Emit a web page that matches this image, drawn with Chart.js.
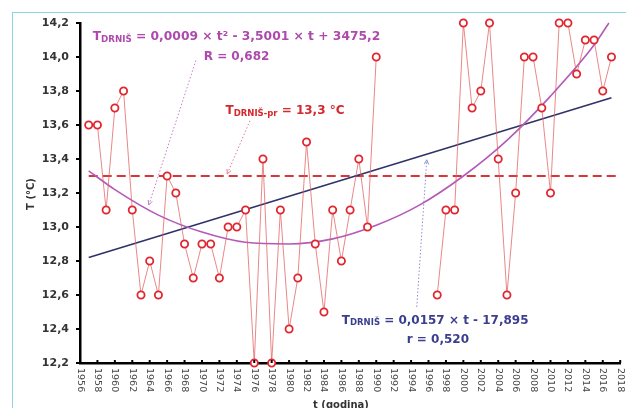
<!DOCTYPE html>
<html>
<head>
<meta charset="utf-8">
<script src="https://cdn.jsdelivr.net/npm/chart.js@4/dist/chart.umd.min.js"></script>
<style>
  html, body { margin: 0; padding: 0; background: #fff; }
  #wrap { position: relative; width: 626px; height: 408px; overflow: hidden; }
  #frame { position: absolute; left: 12px; top: 12px; width: 700px; height: 500px;
           border-left: 1px solid #8fd4e2; border-top: 1px solid #8fd4e2; }
  canvas { position: absolute; left: 0; top: 0; }
</style>
</head>
<body>
<div id="wrap">
  <div id="frame"></div>
  <canvas id="c" width="626" height="408"></canvas>
</div>
<script>
// Mean annual air temperature, Drniš
const years = [
  1957, 1958, 1959, 1960, 1961, 1962, 1963, 1964, 1965, 1966,
  1967, 1968, 1969, 1970, 1971, 1972, 1973, 1974, 1975, 1976,
  1977, 1978, 1979, 1980, 1981, 1982, 1983, 1984, 1985, 1986,
  1987, 1988, 1989, 1990, 1991, 1992, 1993, 1994, 1995, 1996,
  1997, 1998, 1999, 2000, 2001, 2002, 2003, 2004, 2005, 2006,
  2007, 2008, 2009, 2010, 2011, 2012, 2013, 2014, 2015, 2016,
  2017
];
const temps = [
  13.6, 13.6, 13.1, 13.7, 13.8, 13.1, 12.6, 12.8, 12.6, 13.3,
  13.2, 12.9, 12.7, 12.9, 12.9, 12.7, 13.0, 13.0, 13.1, 12.2,
  13.4, 12.2, 13.1, 12.4, 12.7, 13.5, 12.9, 12.5, 13.1, 12.8,
  13.1, 13.4, 13.0, 14.0, null, null, null, null, null, null,
  12.6, 13.1, 13.1, 14.2, 13.7, 13.8, 14.2, 13.4, 12.6, 13.2,
  14.0, 14.0, 13.7, 13.2, 14.2, 14.2, 13.9, 14.1, 14.1, 13.8,
  14.0
];

// Long-term mean
const meanYears = [1957, 2018];
const meanTemp = 13.3;

// Linear trend
const linYears = [1957, 2017];
const linTemps = [12.82, 13.76];

// Second-order polynomial trend
const quadYears = [1957, 1960, 1965, 1970, 1975, 1980, 1985, 1990, 1995, 2000, 2005, 2010, 2015, 2016.7];
const quadTemps = [13.33, 13.22, 13.07, 12.97, 12.91, 12.90, 12.93, 13.01, 13.13, 13.30, 13.51, 13.77, 14.07, 14.20];

// Axis ticks
const yearTicks = ['1956','1958','1960','1962','1964','1966','1968','1970','1972','1974','1976',
  '1978','1980','1982','1984','1986','1988','1990','1992','1994','1996','1998','2000','2002',
  '2004','2006','2008','2010','2012','2014','2016','2018'];
const tempTicks = [12.2, 12.4, 12.6, 12.8, 13.0, 13.2, 13.4, 13.6, 13.8, 14.0, 14.2];

const FONT = '"DejaVu Sans", Verdana, sans-serif';

function pts(xs, ys) { return xs.map((v, i) => ({ x: v, y: ys[i] })); }

// Text with a small subscript part, e.g. T with DRNIŠ
function drawEq(ctx, parts, x, y, color) {
  ctx.fillStyle = color;
  ctx.textAlign = 'left';
  ctx.textBaseline = 'alphabetic';
  let cx = x;
  parts.forEach(p => {
    ctx.font = 'bold ' + p.size + 'px ' + FONT;
    ctx.fillText(p.t, cx, y + (p.dy || 0));
    cx += ctx.measureText(p.t).width;
  });
}

function arrow(ctx, x0, y0, x1, y1, color) {
  ctx.save();
  ctx.strokeStyle = color;
  ctx.lineWidth = 1;
  ctx.setLineDash([1.5, 2]);
  ctx.beginPath(); ctx.moveTo(x0, y0); ctx.lineTo(x1, y1); ctx.stroke();
  ctx.setLineDash([]);
  const a = Math.atan2(y1 - y0, x1 - x0), s = 5, w = 0.45;
  ctx.beginPath();
  ctx.moveTo(x1 - s * Math.cos(a - w), y1 - s * Math.sin(a - w));
  ctx.lineTo(x1, y1);
  ctx.lineTo(x1 - s * Math.cos(a + w), y1 - s * Math.sin(a + w));
  ctx.stroke();
  ctx.restore();
}

// Labels and leaders, placed in data coordinates
const notes = [
  { parts: [{ t: 'T', size: 12.3 }, { t: 'DRNIŠ', size: 8.7, dy: 1.5 }, { t: ' = 0,0009 × t² - 3,5001 × t + 3475,2', size: 12.3 }],
    year: 1957.45, temp: 14.10, color: '#ae4aae' },
  { parts: [{ t: 'R = 0,682', size: 12 }], year: 1970.2, temp: 13.98, color: '#ae4aae' },
  { parts: [{ t: 'T', size: 12 }, { t: 'DRNIŠ-pr', size: 8.5, dy: 1.5 }, { t: ' = 13,3 °C', size: 12 }],
    year: 1972.7, temp: 13.663, color: '#d4282e' },
  { parts: [{ t: 'T', size: 12 }, { t: 'DRNIŠ', size: 8.5, dy: 1.5 }, { t: ' = 0,0157 × t - 17,895', size: 12 }],
    year: 1986.05, temp: 12.432, color: '#3b3e8e' },
  { parts: [{ t: 'r = 0,520', size: 12 }], year: 1993.5, temp: 12.32, color: '#3b3e8e' }
];
const leaders = [
  { from: [1969.3, 13.98], to: [1963.9, 13.13], color: '#c47ccc' },
  { from: [1975.5, 13.625], to: [1972.9, 13.312], color: '#e07a92' },
  { from: [1994.65, 12.53], to: [1995.8, 13.395], color: '#8a90cc' }
];

const overlay = {
  id: 'overlay',
  afterDraw(chart) {
    const { ctx, scales: { x, y } } = chart;
    ctx.save();
    // year ticks and labels (read top-down)
    yearTicks.forEach(lbl => {
      const px = x.getPixelForValue(Number(lbl));
      ctx.strokeStyle = '#000';
      ctx.lineWidth = 2;
      ctx.beginPath(); ctx.moveTo(px, y.bottom); ctx.lineTo(px, y.bottom - 3); ctx.stroke();
      ctx.save();
      ctx.translate(px, y.bottom + 5);
      ctx.rotate(Math.PI / 2);
      ctx.font = '9.5px ' + FONT;
      ctx.fillStyle = '#444';
      ctx.textAlign = 'left';
      ctx.textBaseline = 'middle';
      ctx.fillText(lbl, 0, 0);
      ctx.restore();
    });
    // axis titles
    ctx.fillStyle = '#333';
    ctx.font = 'bold 10px ' + FONT;
    ctx.textAlign = 'center';
    ctx.textBaseline = 'middle';
    ctx.fillText('t (godina)', 341, 405);
    ctx.save();
    ctx.translate(31, 194);
    ctx.rotate(-Math.PI / 2);
    ctx.fillText('T (°C)', 0, 0);
    ctx.restore();
    // leaders
    leaders.forEach(l => arrow(ctx,
      x.getPixelForValue(l.from[0]), y.getPixelForValue(l.from[1]),
      x.getPixelForValue(l.to[0]), y.getPixelForValue(l.to[1]), l.color));
    // equations
    notes.forEach(n => drawEq(ctx, n.parts, x.getPixelForValue(n.year), y.getPixelForValue(n.temp), n.color));
    ctx.restore();
  }
};

new Chart(document.getElementById('c'), {
  type: 'line',
  data: {
    datasets: [
      {
        label: 'T',
        data: pts(years, temps),
        borderColor: 'rgba(224,96,96,0.75)',
        borderWidth: 1,
        pointRadius: 3.6,
        pointBorderWidth: 1.8,
        pointBorderColor: '#e0262e',
        pointBackgroundColor: '#ffffff',
        spanGaps: false,
        clip: false,
        order: 0
      },
      {
        label: 'mean',
        data: pts(meanYears, [meanTemp, meanTemp]),
        borderColor: '#d9363b',
        borderWidth: 2.2,
        borderDash: [9, 5],
        pointRadius: 0,
        clip: false,
        order: 3
      },
      {
        label: 'linear',
        data: pts(linYears, linTemps),
        borderColor: '#2e3267',
        borderWidth: 1.6,
        pointRadius: 0,
        clip: false,
        order: 2
      },
      {
        label: 'poly',
        data: pts(quadYears, quadTemps),
        borderColor: '#b35ab8',
        borderWidth: 1.6,
        pointRadius: 0,
        cubicInterpolationMode: 'monotone',
        clip: false,
        order: 1
      }
    ]
  },
  options: {
    responsive: false,
    animation: false,
    events: [],
    layout: { padding: { top: 23, right: 4, left: 0, bottom: 0 } },
    plugins: { legend: { display: false }, tooltip: { enabled: false } },
    scales: {
      x: {
        type: 'linear',
        min: 1956, max: 2018,
        afterBuildTicks: s => { s.ticks = yearTicks.map(v => ({ value: Number(v) })); },
        ticks: { display: false },
        grid: { display: true, drawOnChartArea: false, drawTicks: false, color: '#000' },
        border: { display: true, color: '#000', width: 2.5 },
        afterFit: s => { s.height = 45; }
      },
      y: {
        type: 'linear',
        min: 12.2, max: 14.2,
        afterBuildTicks: s => { s.ticks = tempTicks.map(v => ({ value: v })); },
        ticks: {
          callback: v => v.toFixed(1).replace('.', ','),
          font: { family: FONT, size: 11, weight: 'bold' },
          color: '#333',
          padding: 7
        },
        grid: { display: true, drawOnChartArea: false, drawTicks: true, tickLength: 4, color: '#000', lineWidth: 2 },
        border: { display: true, color: '#000', width: 2.5 },
        afterFit: s => { s.width = 80; }
      }
    }
  },
  plugins: [overlay]
});
</script>
</body>
</html>
